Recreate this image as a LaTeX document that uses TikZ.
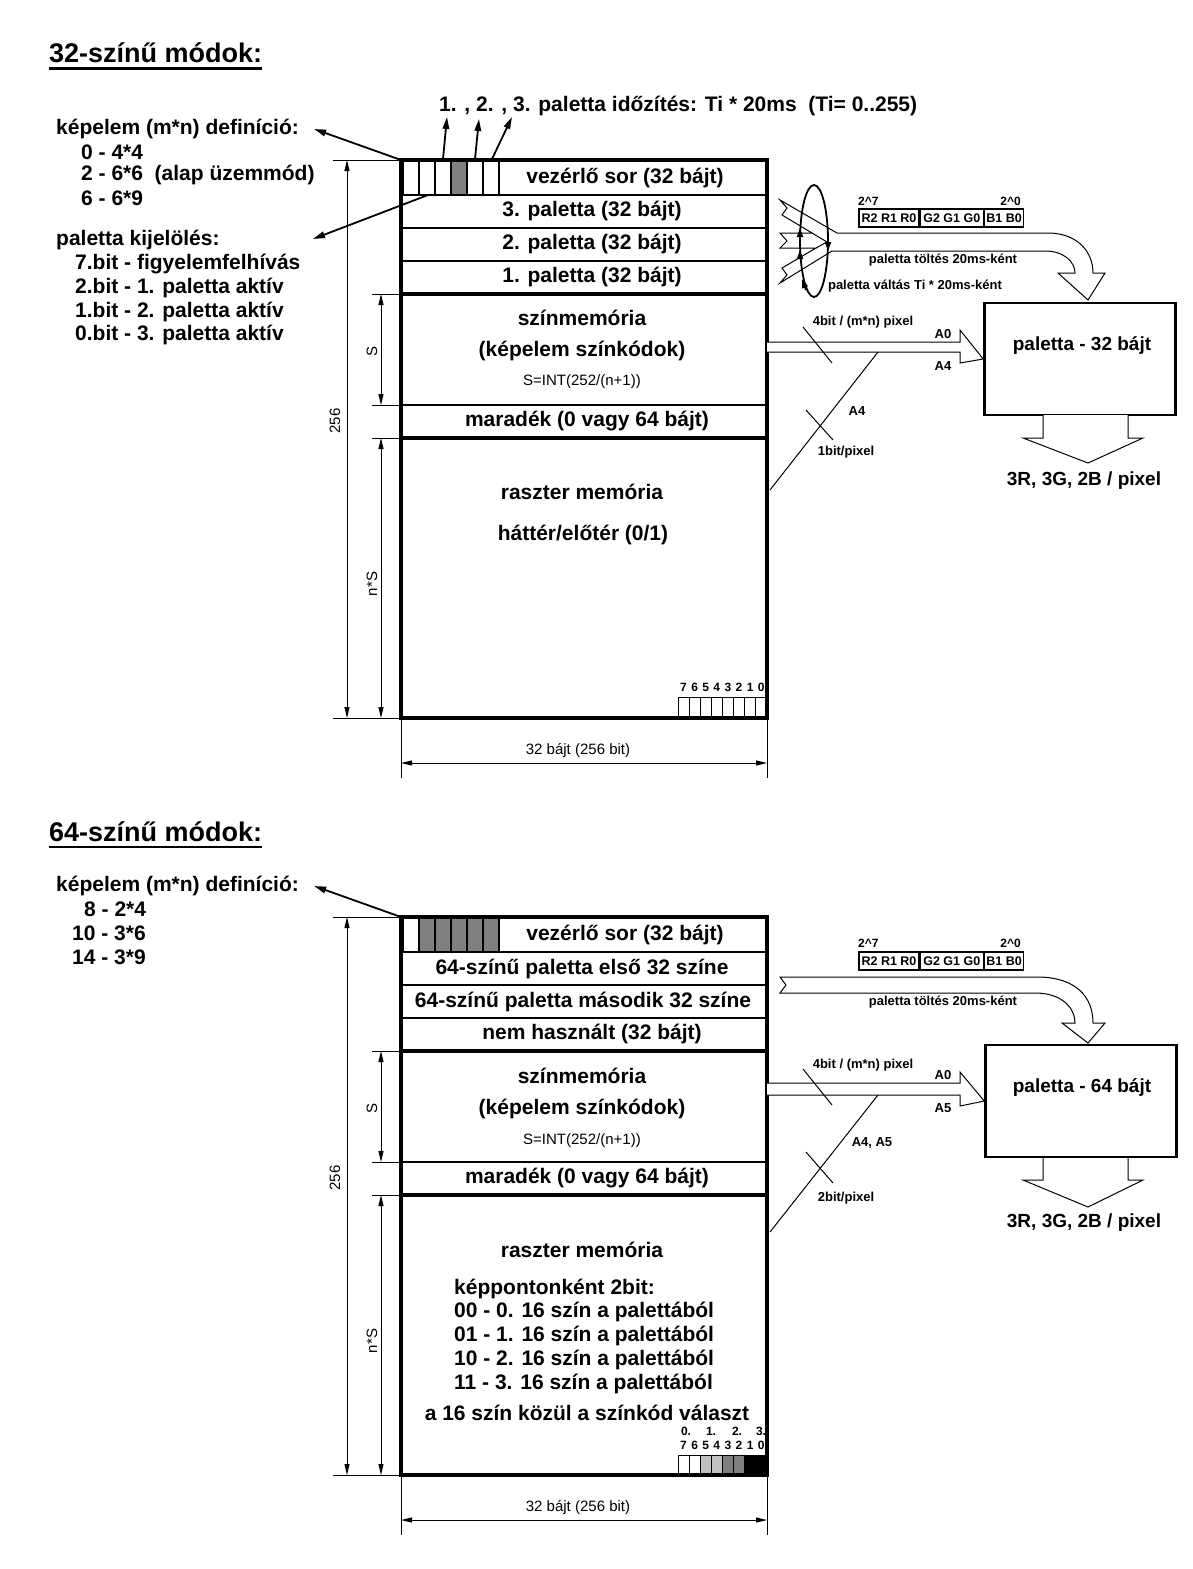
\documentclass[tikz,border=0pt]{standalone}
\usepackage{fontspec}
\setmainfont{Liberation Sans}
\usetikzlibrary{arrows.meta,positioning,calc}
\definecolor{cellgray}{HTML}{808080}
\definecolor{celllight}{HTML}{C0C0C0}

\tikzset{
  bigtext/.style={font=\fontsize{21}{24}\selectfont\bfseries, inner sep=0pt},
  listtext/.style={bigtext, anchor=west},
  titletext/.style={font=\fontsize{27}{30}\selectfont\bfseries, anchor=west, inner sep=0pt},
  midtext/.style={font=\fontsize{19}{22}\selectfont\bfseries, inner sep=0pt},
  smalltext/.style={font=\fontsize{13}{15}\selectfont\bfseries, inner sep=0pt},
  tinytext/.style={font=\fontsize{12}{13}\selectfont\bfseries, inner sep=0pt},
  dimtext/.style={font=\fontsize{15}{17}\selectfont, inner sep=0pt},
  memframe/.style={line width=4pt},
  sepline/.style={line width=2pt},
  thinline/.style={line width=1pt},
  dimarrow/.style={line width=1pt, {Triangle[length=11pt,width=5pt]}-{Triangle[length=11pt,width=5pt]}},
  pointer/.style={line width=1.8pt, -{Triangle[length=12pt,width=6.5pt]}},
  bandline/.style={line width=1pt, fill=white, line join=miter},
  palbox/.style={draw, line width=2.5pt, minimum width=191pt, minimum height=112pt, inner sep=0pt},
  fmtcell/.style={draw, line width=1.3pt, minimum height=18pt, inner sep=0pt, font=\fontsize{12.5}{14}\selectfont\bfseries},
  cellbox/.style={draw, line width=1.4pt},
  swaparrow/.style={line width=1.8pt, -{Triangle[length=9pt,width=6pt]}},
}

\begin{document}
\begin{tikzpicture}[x=1pt,y=-1pt]
\fill[white] (0,0) rectangle (1193,1569);
\useasboundingbox (0,0) rectangle (1193,1569);

%% ===== 32-szinu modok =====
\node[titletext] (title32) at (49,53) {32-színű módok:};
\draw[line width=2.5pt] ([yshift=-5pt]title32.south west) -- ([yshift=-5pt]title32.south east);

% left notes
\node[listtext] (def32) at (56,129) {képelem (m*n) definíció:};
\node[listtext] (def32a) at (81,152) {0 - 4*4};
\node[listtext] (def32b) at (81,175) {2 - 6*6~~(alap üzemmód)};
\node[listtext] (def32c) at (81,198) {6 - 6*9};
\node[listtext] (sel32) at (56,240) {paletta kijelölés:};
\node[listtext] (sel32a) at (75,264) {7.bit - figyelemfelhívás};
\node[listtext] (sel32b) at (75,288) {2.bit - 1. paletta aktív};
\node[listtext] (sel32c) at (75,312) {1.bit - 2. paletta aktív};
\node[listtext] (sel32d) at (75,335) {0.bit - 3. paletta aktív};

% control row cells
\fill[cellgray] (451,160) rectangle (467,195);
\foreach \i in {0,...,5}
  \draw[cellbox] ({403+16*\i},160) rectangle ({419+16*\i},195);

% bit cells of raster
\foreach \b [count=\i from 0] in {7,6,5,4,3,2,1,0} {
  \draw[thinline] ({678+11.1*\i},697) rectangle ({689.1+11.1*\i},718);
  \node[tinytext] (bitA\b) at ({683.5+11.1*\i},687) {\b};
}

% memory frame
\coordinate (memA-nw) at (401,160);
\coordinate (memA-se) at (767,718);
\draw[sepline] (401,195) -- (767,195) (401,228) -- (767,228) (401,261) -- (767,261) (401,405) -- (767,405);
\draw[memframe] (401,294) -- (767,294) (401,438) -- (767,438);
\draw[memframe] (memA-nw) rectangle (memA-se);

\node[bigtext] (ctlA) at (625,178) {vezérlő sor (32 bájt)};
\node[bigtext] (palA3) at (592,211) {3. paletta (32 bájt)};
\node[bigtext] (palA2) at (592,244) {2. paletta (32 bájt)};
\node[bigtext] (palA1) at (592,277) {1. paletta (32 bájt)};
\node[bigtext] (colA) at (582,318) {színmemória};
\node[bigtext] (colA2) at (582,351) {(képelem színkódok)};
\node[dimtext] (colA3) at (582,382) {S=INT(252/(n+1))};
\node[bigtext] (restA) at (587,421) {maradék (0 vagy 64 bájt)};
\node[bigtext] (rasA) at (582,492) {raszter memória};
\node[bigtext] (rasA2) at (583,535) {háttér/előtér (0/1)};

% timing pointers
\node[bigtext, anchor=west] (timA) at (439,106) {1. , 2. , 3. paletta időzítés: Ti * 20ms~~(Ti= 0..255)};
\coordinate (timA1) at (447,117);
\coordinate (timA2) at (479,119);
\coordinate (timA3) at (512,117);
\draw[pointer] (443,159) -- (timA1);
\draw[pointer] (475,159) -- (timA2);
\draw[pointer] (492,159) -- (timA3);

% left pointers
\draw[pointer] (memA-nw) -- ([xshift=15pt]def32.east);
\coordinate (selA) at (313,239);
\draw[pointer] (428,195) -- (selA);

% dimensions
\draw[thinline] (333,160) -- (memA-nw) (333,718) -- (401,718);
\draw[thinline] (372,294) -- (401,294) (372,405) -- (401,405) (372,438) -- (401,438);
\draw[dimarrow] (347,160) -- (347,718);
\draw[dimarrow] (381,294) -- (381,405);
\draw[dimarrow] (381,438) -- (381,718);
\node[dimtext, rotate=90] (hA) at (335,421) {256};
\node[dimtext, rotate=90] (sA) at (372,351) {S};
\node[dimtext, rotate=90] (nsA) at (372,584) {n*S};
\draw[thinline] (401,718) -- (401,778) (767,718) -- (767,778);
\draw[dimarrow] (401,763) -- (767,763);
\node[dimtext] (wA) at (578,751) {32 bájt (256 bit)};

% colour format
\node[tinytext, anchor=west] (hiA) at (858,201) {2\textasciicircum 7};
\node[tinytext, anchor=east] (loA) at (1021,201) {2\textasciicircum 0};
\node[fmtcell, minimum width=60pt] (fmtAR) at (889,218) {R2 R1 R0};
\node[fmtcell, minimum width=63pt, right=0pt of fmtAR] (fmtAG) {G2 G1 G0};
\node[fmtcell, minimum width=39pt, right=0pt of fmtAG] (fmtAB) {B1 B0};

% palette loading band
\draw[bandline] (780,200) -- (837,233) -- (1050,233) .. controls (1078,234) and (1093,252) .. (1093,273)
  -- (1105,273) -- (1088,300) -- (1058,273) -- (1075,273) .. controls (1075,262) and (1064,251) .. (1045,251)
  -- (832,251) -- (780,283) -- (787,275) -- (782,268) -- (816,248) -- (780,248) -- (787,241)
  -- (780,233) -- (812,233) -- (782,215) -- (787,208) -- cycle;
\draw[thinline] (812,233) -- (827,242) -- (816,248);
\draw[line width=1.8pt] (814,241) ellipse[x radius=14, y radius=56];
\draw[swaparrow] (828,236) -- (828,251);
\draw[swaparrow] (800,236) -- (800,228);
\draw[swaparrow] (800,258) -- (800,250);
\draw[swaparrow] (806,290) -- (802,279);
\node[smalltext] (loadA) at (943,260) {paletta töltés 20ms-ként};
\node[smalltext] (swapA) at (915,286) {paletta váltás Ti * 20ms-ként};

% palette box
\node[palbox] (palboxA) at (1080,359) {};
\node[midtext] (palboxAt) at (1082,345) {paletta - 32 bájt};
\draw[bandline] (1043,415) -- (1043,438) -- (1023,438) -- (1088,463) -- (1143,438) -- (1128,438) -- (1128,415);
\node[midtext] (outA) at (1084,481) {3R, 3G, 2B / pixel};

% colour code and raster inputs
\draw[bandline] (767,342) -- (960,342) -- (960,330) -- (palboxA.west) -- (960,363) -- (960,352) -- (767,352);
\coordinate (rasA-out) at (770,490);
\draw[thinline] (rasA-out) -- (878,352);
\draw[thinline] (803,327) -- (832,363);
\draw[thinline] (806,410) -- (833,440);
\node[smalltext] (bitsA) at (863,322) {4bit / (m*n) pixel};
\node[smalltext] (a0A) at (943,334) {A0};
\node[smalltext] (a4A) at (943,366) {A4};
\node[smalltext] (a4Ab) at (857,411) {A4};
\node[smalltext] (oneA) at (846,452) {1bit/pixel};

%% ===== 64-szinu modok =====
\node[titletext] (title64) at (49,832) {64-színű módok:};
\draw[line width=2.5pt] ([yshift=-5pt]title64.south west) -- ([yshift=-5pt]title64.south east);

\node[listtext] (def64) at (56,886) {képelem (m*n) definíció:};
\node[listtext] (def64a) at (84,909) {8 - 2*4};
\node[listtext] (def64b) at (72,933) {10 - 3*6};
\node[listtext] (def64c) at (72,957) {14 - 3*9};

% control row cells
\fill[cellgray] (419,917) rectangle (499,952);
\foreach \i in {0,...,5}
  \draw[cellbox] ({403+16*\i},917) rectangle ({419+16*\i},952);

% bit cells of raster
\foreach \b/\c [count=\i from 0] in {7/white,6/white,5/celllight,4/celllight,3/cellgray,2/cellgray,1/black,0/black} {
  \draw[thinline, fill=\c] ({678+11.1*\i},1455) rectangle ({689.1+11.1*\i},1476);
  \node[tinytext] (bitB\b) at ({683.5+11.1*\i},1445) {\b};
}

% memory frame
\coordinate (memB-nw) at (401,917);
\coordinate (memB-se) at (767,1475);
\draw[sepline] (401,952) -- (767,952) (401,985) -- (767,985) (401,1018) -- (767,1018) (401,1162) -- (767,1162);
\draw[memframe] (401,1051) -- (767,1051) (401,1195) -- (767,1195);
\draw[memframe] (memB-nw) rectangle (memB-se);

% pair groups of the bit cells
\foreach \g/\x in {0/686,1/711,2/737,3/761}
  \node[tinytext] (grpB\g) at (\x,1431) {\g.};

\node[bigtext] (ctlB) at (625,935) {vezérlő sor (32 bájt)};
\node[bigtext] (palB1) at (582,969) {64-színű paletta első 32 színe};
\node[bigtext] (palB2) at (583,1002) {64-színű paletta második 32 színe};
\node[bigtext] (unusedB) at (592,1034) {nem használt (32 bájt)};
\node[bigtext] (colB) at (582,1076) {színmemória};
\node[bigtext] (colB2) at (582,1109) {(képelem színkódok)};
\node[dimtext] (colB3) at (582,1141) {S=INT(252/(n+1))};
\node[bigtext] (restB) at (587,1178) {maradék (0 vagy 64 bájt)};
\node[bigtext] (rasB) at (582,1250) {raszter memória};
\node[listtext] (rasB1) at (454,1289) {képpontonként 2bit:};
\node[listtext] (rasB2) at (454,1312) {00 - 0. 16 szín a palettából};
\node[listtext] (rasB3) at (454,1336) {01 - 1. 16 szín a palettából};
\node[listtext] (rasB4) at (454,1360) {10 - 2. 16 szín a palettából};
\node[listtext] (rasB5) at (454,1384) {11 - 3. 16 szín a palettából};
\node[bigtext] (rasB6) at (587,1413) {a 16 szín közül a színkód választ};

% left pointer
\draw[pointer] (memB-nw) -- ([xshift=15pt]def64.east);

% dimensions
\draw[thinline] (333,917) -- (memB-nw) (333,1475) -- (401,1475);
\draw[thinline] (372,1051) -- (401,1051) (372,1162) -- (401,1162) (372,1195) -- (401,1195);
\draw[dimarrow] (347,917) -- (347,1475);
\draw[dimarrow] (381,1051) -- (381,1162);
\draw[dimarrow] (381,1195) -- (381,1475);
\node[dimtext, rotate=90] (hB) at (335,1178) {256};
\node[dimtext, rotate=90] (sB) at (372,1108) {S};
\node[dimtext, rotate=90] (nsB) at (372,1341) {n*S};
\draw[thinline] (401,1475) -- (401,1535) (767,1475) -- (767,1535);
\draw[dimarrow] (401,1520) -- (767,1520);
\node[dimtext] (wB) at (578,1508) {32 bájt (256 bit)};

% colour format
\node[tinytext, anchor=west] (hiB) at (858,943) {2\textasciicircum 7};
\node[tinytext, anchor=east] (loB) at (1021,943) {2\textasciicircum 0};
\node[fmtcell, minimum width=60pt] (fmtBR) at (889,961) {R2 R1 R0};
\node[fmtcell, minimum width=63pt, right=0pt of fmtBR] (fmtBG) {G2 G1 G0};
\node[fmtcell, minimum width=39pt, right=0pt of fmtBG] (fmtBB) {B1 B0};

% palette loading band
\draw[bandline] (780,977) -- (1040,977) .. controls (1075,978) and (1093,996) .. (1093,1023)
  -- (1105,1023) -- (1088,1043) -- (1062,1023) -- (1075,1023) .. controls (1075,1008) and (1062,993) .. (1035,993)
  -- (780,993) -- (786,985) -- cycle;
\node[smalltext] (loadB) at (943,1002) {paletta töltés 20ms-ként};

% palette box
\node[palbox] (palboxB) at (1081,1101) {};
\node[midtext] (palboxBt) at (1082,1087) {paletta - 64 bájt};
\draw[bandline] (1043,1158) -- (1043,1180) -- (1023,1180) -- (1088,1207) -- (1143,1180) -- (1128,1180) -- (1128,1158);
\node[midtext] (outB) at (1084,1223) {3R, 3G, 2B / pixel};

% colour code and raster inputs
\draw[bandline] (767,1083) -- (960,1083) -- (960,1072) -- (palboxB.west) -- (960,1106) -- (960,1095) -- (767,1095);
\coordinate (rasB-out) at (770,1232);
\draw[thinline] (rasB-out) -- (878,1095);
\draw[thinline] (803,1069) -- (832,1105);
\draw[thinline] (806,1152) -- (833,1183);
\node[smalltext] (bitsB) at (863,1065) {4bit / (m*n) pixel};
\node[smalltext] (a0B) at (943,1075) {A0};
\node[smalltext] (a5B) at (943,1108) {A5};
\node[smalltext] (a45B) at (872,1143) {A4, A5};
\node[smalltext] (twoB) at (846,1198) {2bit/pixel};
\end{tikzpicture}
\end{document}
